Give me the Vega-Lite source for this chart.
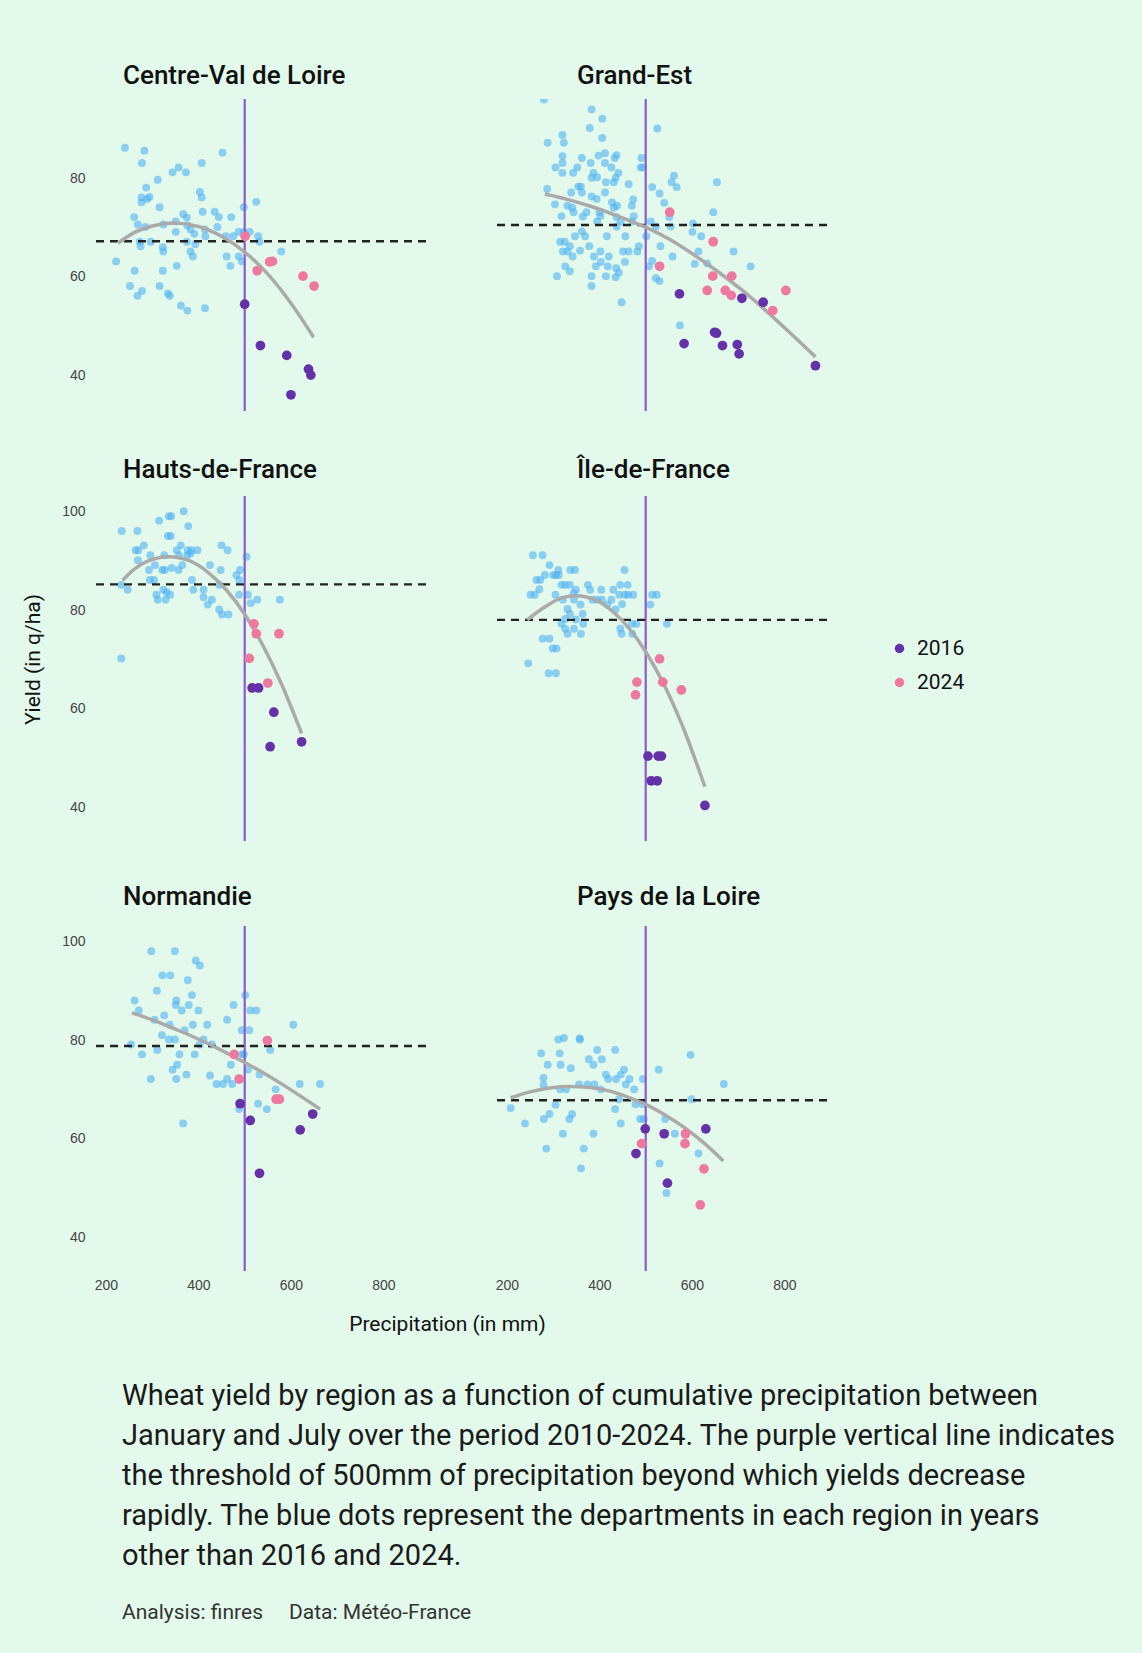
{
"$schema": "https://vega.github.io/schema/vega-lite/v6.json",
"background": "#e3f9eb",
"padding": {"left": 22, "top": 62, "right": 34, "bottom": 32},
"bounds": "flush",
"columns": 2,
"spacing": {"row": 85, "column": 68},
"title": {
  "text": ["Wheat yield by region as a function of cumulative precipitation between", "January and July over the period 2010-2024. The purple vertical line indicates", "the threshold of 500mm of precipitation beyond which yields decrease", "rapidly. The blue dots represent the departments in each region in years", "other than 2016 and 2024."],
  "orient": "bottom", "anchor": "start", "frame": "group", "dx": 29, "offset": 48,
  "font": "Roboto", "fontSize": 29, "fontWeight": "normal", "lineHeight": 40, "color": "#1a1a1a",
  "subtitle": "Analysis: finres\u00a0\u00a0\u00a0\u00a0\u00a0Data: Météo-France", "subtitleFont": "Roboto", "subtitleFontSize": 21, "subtitleColor": "#333333", "subtitlePadding": 31
},
"config": {
  "font": "Roboto",
  "view": {"stroke": null},
  "axis": {"grid": false, "domain": false, "ticks": false, "labelFont": "Liberation Sans", "labelFontSize": 14, "labelColor": "#444444", "labelPadding": 8},
  "title": {"font": "Roboto", "fontSize": 26, "fontWeight": 500, "color": "#111111", "anchor": "start", "frame": "group", "offset": 13}
},
"datasets": {
"ref": [
  {"region": "CVL", "mean_yield": 67.2, "threshold": 500},
  {"region": "GE", "mean_yield": 70.5, "threshold": 500},
  {"region": "HDF", "mean_yield": 85.2, "threshold": 500},
  {"region": "IDF", "mean_yield": 78.0, "threshold": 500},
  {"region": "NOR", "mean_yield": 78.8, "threshold": 500},
  {"region": "PDL", "mean_yield": 67.8, "threshold": 500}
],
"trend": [
  {"region":"CVL","precip":226,"yield":66.8},{"region":"CVL","precip":260,"yield":68.9},{"region":"CVL","precip":300,"yield":70.3},{"region":"CVL","precip":348,"yield":70.9},{"region":"CVL","precip":400,"yield":70.2},{"region":"CVL","precip":450,"yield":68.2},{"region":"CVL","precip":500,"yield":65.0},{"region":"CVL","precip":550,"yield":60.5},{"region":"CVL","precip":600,"yield":54.6},{"region":"CVL","precip":649,"yield":47.7},
  {"region":"GE","precip":282,"yield":76.8},{"region":"GE","precip":330,"yield":75.7},{"region":"GE","precip":381,"yield":74.3},{"region":"GE","precip":440,"yield":72.3},{"region":"GE","precip":501,"yield":70.0},{"region":"GE","precip":555,"yield":67.4},{"region":"GE","precip":605,"yield":64.4},{"region":"GE","precip":655,"yield":61.1},{"region":"GE","precip":705,"yield":57.5},{"region":"GE","precip":755,"yield":53.5},{"region":"GE","precip":805,"yield":49.2},{"region":"GE","precip":867,"yield":43.7},
  {"region":"HDF","precip":236,"yield":86.0},{"region":"HDF","precip":260,"yield":88.2},{"region":"HDF","precip":290,"yield":89.9},{"region":"HDF","precip":336,"yield":90.8},{"region":"HDF","precip":380,"yield":90.0},{"region":"HDF","precip":420,"yield":87.7},{"region":"HDF","precip":460,"yield":84.1},{"region":"HDF","precip":501,"yield":79.0},{"region":"HDF","precip":540,"yield":72.7},{"region":"HDF","precip":580,"yield":64.9},{"region":"HDF","precip":623,"yield":55.0},
  {"region":"IDF","precip":244,"yield":78.0},{"region":"IDF","precip":280,"yield":80.5},{"region":"IDF","precip":320,"yield":82.5},{"region":"IDF","precip":349,"yield":82.9},{"region":"IDF","precip":390,"yield":82.1},{"region":"IDF","precip":430,"yield":79.6},{"region":"IDF","precip":470,"yield":75.6},{"region":"IDF","precip":501,"yield":71.4},{"region":"IDF","precip":540,"yield":64.8},{"region":"IDF","precip":580,"yield":56.4},{"region":"IDF","precip":628,"yield":44.2},
  {"region":"NOR","precip":256,"yield":85.5},{"region":"NOR","precip":300,"yield":84.1},{"region":"NOR","precip":350,"yield":82.2},{"region":"NOR","precip":400,"yield":80.2},{"region":"NOR","precip":450,"yield":77.9},{"region":"NOR","precip":499,"yield":75.5},{"region":"NOR","precip":550,"yield":72.8},{"region":"NOR","precip":600,"yield":69.9},{"region":"NOR","precip":663,"yield":66.0},
  {"region":"PDL","precip":208,"yield":68.3},{"region":"PDL","precip":250,"yield":69.5},{"region":"PDL","precip":300,"yield":70.4},{"region":"PDL","precip":338,"yield":70.6},{"region":"PDL","precip":380,"yield":70.4},{"region":"PDL","precip":420,"yield":69.7},{"region":"PDL","precip":460,"yield":68.5},{"region":"PDL","precip":501,"yield":66.9},{"region":"PDL","precip":540,"yield":64.9},{"region":"PDL","precip":580,"yield":62.5},{"region":"PDL","precip":620,"yield":59.6},{"region":"PDL","precip":668,"yield":55.5}
],
"points": [
{"region":"CVL","year":"other","precip":241,"yield":86.2},{"region":"CVL","year":"other","precip":283,"yield":85.6},{"region":"CVL","year":"other","precip":278,"yield":83.1},{"region":"CVL","year":"other","precip":452,"yield":85.2},{"region":"CVL","year":"other","precip":407,"yield":83.1},{"region":"CVL","year":"other","precip":344,"yield":81.2},{"region":"CVL","year":"other","precip":357,"yield":82.2},{"region":"CVL","year":"other","precip":373,"yield":81.2},{"region":"CVL","year":"other","precip":312,"yield":79.7},{"region":"CVL","year":"other","precip":403,"yield":77.2},{"region":"CVL","year":"other","precip":407,"yield":76.1},{"region":"CVL","year":"other","precip":287,"yield":78.1},{"region":"CVL","year":"other","precip":277,"yield":76.1},{"region":"CVL","year":"other","precip":294,"yield":76.2},{"region":"CVL","year":"other","precip":289,"yield":75.8},{"region":"CVL","year":"other","precip":277,"yield":75.1},{"region":"CVL","year":"other","precip":316,"yield":74.1},{"region":"CVL","year":"other","precip":525,"yield":75.2},{"region":"CVL","year":"other","precip":498,"yield":74.1},{"region":"CVL","year":"other","precip":367,"yield":72.7},{"region":"CVL","year":"other","precip":409,"yield":73.2},{"region":"CVL","year":"other","precip":435,"yield":73.2},{"region":"CVL","year":"other","precip":444,"yield":72.1},{"region":"CVL","year":"other","precip":471,"yield":72.1},{"region":"CVL","year":"other","precip":261,"yield":72.1},{"region":"CVL","year":"other","precip":269,"yield":70.6},{"region":"CVL","year":"other","precip":285,"yield":70.1},{"region":"CVL","year":"other","precip":324,"yield":70.6},{"region":"CVL","year":"other","precip":351,"yield":71.2},{"region":"CVL","year":"other","precip":351,"yield":69.1},{"region":"CVL","year":"other","precip":375,"yield":72.0},{"region":"CVL","year":"other","precip":376,"yield":70.4},{"region":"CVL","year":"other","precip":383,"yield":69.6},{"region":"CVL","year":"other","precip":391,"yield":68.7},{"region":"CVL","year":"other","precip":414,"yield":69.6},{"region":"CVL","year":"other","precip":415,"yield":68.2},{"region":"CVL","year":"other","precip":441,"yield":70.1},{"region":"CVL","year":"other","precip":459,"yield":68.2},{"region":"CVL","year":"other","precip":475,"yield":68.2},{"region":"CVL","year":"other","precip":487,"yield":69.1},{"region":"CVL","year":"other","precip":511,"yield":69.1},{"region":"CVL","year":"other","precip":529,"yield":68.2},{"region":"CVL","year":"other","precip":532,"yield":67.1},{"region":"CVL","year":"other","precip":273,"yield":67.1},{"region":"CVL","year":"other","precip":297,"yield":67.1},{"region":"CVL","year":"other","precip":323,"yield":66.0},{"region":"CVL","year":"other","precip":324,"yield":65.1},{"region":"CVL","year":"other","precip":375,"yield":67.1},{"region":"CVL","year":"other","precip":383,"yield":65.1},{"region":"CVL","year":"other","precip":388,"yield":64.1},{"region":"CVL","year":"other","precip":393,"yield":66.6},{"region":"CVL","year":"other","precip":461,"yield":64.1},{"region":"CVL","year":"other","precip":469,"yield":62.2},{"region":"CVL","year":"other","precip":487,"yield":64.1},{"region":"CVL","year":"other","precip":494,"yield":63.1},{"region":"CVL","year":"other","precip":579,"yield":65.1},{"region":"CVL","year":"other","precip":222,"yield":63.1},{"region":"CVL","year":"other","precip":262,"yield":61.2},{"region":"CVL","year":"other","precip":323,"yield":61.2},{"region":"CVL","year":"other","precip":353,"yield":62.2},{"region":"CVL","year":"other","precip":252,"yield":58.1},{"region":"CVL","year":"other","precip":268,"yield":56.1},{"region":"CVL","year":"other","precip":278,"yield":57.1},{"region":"CVL","year":"other","precip":316,"yield":58.1},{"region":"CVL","year":"other","precip":334,"yield":56.6},{"region":"CVL","year":"other","precip":338,"yield":56.1},{"region":"CVL","year":"other","precip":362,"yield":54.1},{"region":"CVL","year":"other","precip":376,"yield":53.1},{"region":"CVL","year":"other","precip":414,"yield":53.6},{"region":"CVL","year":"other","precip":275,"yield":66.2},{"region":"CVL","year":"other","precip":498,"yield":69.1},
{"region":"CVL","year":"2024","precip":501,"yield":68.2},{"region":"CVL","year":"2024","precip":527,"yield":61.2},{"region":"CVL","year":"2024","precip":554,"yield":63.0},{"region":"CVL","year":"2024","precip":560,"yield":63.1},{"region":"CVL","year":"2024","precip":626,"yield":60.1},{"region":"CVL","year":"2024","precip":650,"yield":58.1},
{"region":"CVL","year":"2016","precip":500,"yield":54.4},{"region":"CVL","year":"2016","precip":534,"yield":46.0},{"region":"CVL","year":"2016","precip":591,"yield":44.0},{"region":"CVL","year":"2016","precip":638,"yield":41.2},{"region":"CVL","year":"2016","precip":643,"yield":40.0},{"region":"CVL","year":"2016","precip":600,"yield":36.0},
{"region":"GE","year":"other","precip":280,"yield":96.0},{"region":"GE","year":"other","precip":383,"yield":94.0},{"region":"GE","year":"other","precip":406,"yield":92.1},{"region":"GE","year":"other","precip":379,"yield":90.2},{"region":"GE","year":"other","precip":525,"yield":90.1},{"region":"GE","year":"other","precip":320,"yield":88.8},{"region":"GE","year":"other","precip":406,"yield":88.2},{"region":"GE","year":"other","precip":288,"yield":87.2},{"region":"GE","year":"other","precip":323,"yield":87.2},{"region":"GE","year":"other","precip":320,"yield":84.5},{"region":"GE","year":"other","precip":362,"yield":84.1},{"region":"GE","year":"other","precip":398,"yield":84.6},{"region":"GE","year":"other","precip":412,"yield":85.1},{"region":"GE","year":"other","precip":433,"yield":84.1},{"region":"GE","year":"other","precip":437,"yield":84.7},{"region":"GE","year":"other","precip":491,"yield":84.1},{"region":"GE","year":"other","precip":305,"yield":82.2},{"region":"GE","year":"other","precip":320,"yield":83.1},{"region":"GE","year":"other","precip":320,"yield":81.1},{"region":"GE","year":"other","precip":343,"yield":81.1},{"region":"GE","year":"other","precip":352,"yield":82.2},{"region":"GE","year":"other","precip":381,"yield":83.1},{"region":"GE","year":"other","precip":412,"yield":83.1},{"region":"GE","year":"other","precip":426,"yield":82.2},{"region":"GE","year":"other","precip":489,"yield":82.2},{"region":"GE","year":"other","precip":494,"yield":82.2},{"region":"GE","year":"other","precip":387,"yield":81.1},{"region":"GE","year":"other","precip":395,"yield":80.2},{"region":"GE","year":"other","precip":441,"yield":81.1},{"region":"GE","year":"other","precip":383,"yield":80.1},{"region":"GE","year":"other","precip":414,"yield":79.2},{"region":"GE","year":"other","precip":431,"yield":79.2},{"region":"GE","year":"other","precip":435,"yield":80.1},{"region":"GE","year":"other","precip":561,"yield":80.5},{"region":"GE","year":"other","precip":556,"yield":79.2},{"region":"GE","year":"other","precip":567,"yield":78.2},{"region":"GE","year":"other","precip":654,"yield":79.2},{"region":"GE","year":"other","precip":463,"yield":78.8},{"region":"GE","year":"other","precip":354,"yield":78.3},{"region":"GE","year":"other","precip":360,"yield":78.3},{"region":"GE","year":"other","precip":514,"yield":78.2},{"region":"GE","year":"other","precip":287,"yield":77.8},{"region":"GE","year":"other","precip":339,"yield":77.1},{"region":"GE","year":"other","precip":362,"yield":77.1},{"region":"GE","year":"other","precip":412,"yield":77.1},{"region":"GE","year":"other","precip":530,"yield":76.9},{"region":"GE","year":"other","precip":383,"yield":76.3},{"region":"GE","year":"other","precip":394,"yield":75.8},{"region":"GE","year":"other","precip":473,"yield":75.7},{"region":"GE","year":"other","precip":304,"yield":74.7},{"region":"GE","year":"other","precip":331,"yield":74.4},{"region":"GE","year":"other","precip":427,"yield":75.1},{"region":"GE","year":"other","precip":438,"yield":74.4},{"region":"GE","year":"other","precip":470,"yield":74.4},{"region":"GE","year":"other","precip":540,"yield":75.0},{"region":"GE","year":"other","precip":341,"yield":74.0},{"region":"GE","year":"other","precip":344,"yield":73.1},{"region":"GE","year":"other","precip":372,"yield":73.1},{"region":"GE","year":"other","precip":400,"yield":73.1},{"region":"GE","year":"other","precip":431,"yield":74.0},{"region":"GE","year":"other","precip":318,"yield":72.3},{"region":"GE","year":"other","precip":364,"yield":72.2},{"region":"GE","year":"other","precip":402,"yield":72.3},{"region":"GE","year":"other","precip":437,"yield":72.1},{"region":"GE","year":"other","precip":474,"yield":72.3},{"region":"GE","year":"other","precip":646,"yield":73.1},{"region":"GE","year":"other","precip":395,"yield":71.2},{"region":"GE","year":"other","precip":446,"yield":71.2},{"region":"GE","year":"other","precip":471,"yield":71.2},{"region":"GE","year":"other","precip":511,"yield":71.2},{"region":"GE","year":"other","precip":551,"yield":72.1},{"region":"GE","year":"other","precip":554,"yield":70.2},{"region":"GE","year":"other","precip":522,"yield":70.2},{"region":"GE","year":"other","precip":602,"yield":70.8},{"region":"GE","year":"other","precip":437,"yield":70.2},{"region":"GE","year":"other","precip":362,"yield":69.2},{"region":"GE","year":"other","precip":347,"yield":68.2},{"region":"GE","year":"other","precip":369,"yield":68.2},{"region":"GE","year":"other","precip":416,"yield":68.2},{"region":"GE","year":"other","precip":456,"yield":68.2},{"region":"GE","year":"other","precip":501,"yield":68.2},{"region":"GE","year":"other","precip":601,"yield":69.1},{"region":"GE","year":"other","precip":620,"yield":68.2},{"region":"GE","year":"other","precip":315,"yield":67.1},{"region":"GE","year":"other","precip":325,"yield":67.1},{"region":"GE","year":"other","precip":378,"yield":66.2},{"region":"GE","year":"other","precip":485,"yield":66.2},{"region":"GE","year":"other","precip":532,"yield":66.2},{"region":"GE","year":"other","precip":336,"yield":66.2},{"region":"GE","year":"other","precip":321,"yield":65.1},{"region":"GE","year":"other","precip":331,"yield":65.1},{"region":"GE","year":"other","precip":358,"yield":65.3},{"region":"GE","year":"other","precip":402,"yield":65.1},{"region":"GE","year":"other","precip":451,"yield":65.1},{"region":"GE","year":"other","precip":463,"yield":65.1},{"region":"GE","year":"other","precip":482,"yield":65.1},{"region":"GE","year":"other","precip":614,"yield":65.1},{"region":"GE","year":"other","precip":690,"yield":65.1},{"region":"GE","year":"other","precip":342,"yield":64.1},{"region":"GE","year":"other","precip":388,"yield":64.1},{"region":"GE","year":"other","precip":420,"yield":64.1},{"region":"GE","year":"other","precip":455,"yield":63.0},{"region":"GE","year":"other","precip":514,"yield":63.2},{"region":"GE","year":"other","precip":558,"yield":64.1},{"region":"GE","year":"other","precip":403,"yield":63.0},{"region":"GE","year":"other","precip":326,"yield":62.1},{"region":"GE","year":"other","precip":336,"yield":61.1},{"region":"GE","year":"other","precip":392,"yield":62.1},{"region":"GE","year":"other","precip":418,"yield":62.1},{"region":"GE","year":"other","precip":436,"yield":61.7},{"region":"GE","year":"other","precip":507,"yield":62.1},{"region":"GE","year":"other","precip":606,"yield":62.6},{"region":"GE","year":"other","precip":633,"yield":62.7},{"region":"GE","year":"other","precip":727,"yield":62.1},{"region":"GE","year":"other","precip":308,"yield":60.1},{"region":"GE","year":"other","precip":383,"yield":60.1},{"region":"GE","year":"other","precip":414,"yield":60.1},{"region":"GE","year":"other","precip":435,"yield":59.9},{"region":"GE","year":"other","precip":442,"yield":60.8},{"region":"GE","year":"other","precip":522,"yield":59.7},{"region":"GE","year":"other","precip":530,"yield":59.1},{"region":"GE","year":"other","precip":383,"yield":58.1},{"region":"GE","year":"other","precip":448,"yield":54.8},{"region":"GE","year":"other","precip":574,"yield":50.1},
{"region":"GE","year":"2024","precip":552,"yield":73.1},{"region":"GE","year":"2024","precip":646,"yield":67.1},{"region":"GE","year":"2024","precip":530,"yield":62.1},{"region":"GE","year":"2024","precip":645,"yield":60.1},{"region":"GE","year":"2024","precip":686,"yield":60.1},{"region":"GE","year":"2024","precip":633,"yield":57.2},{"region":"GE","year":"2024","precip":672,"yield":57.2},{"region":"GE","year":"2024","precip":685,"yield":56.2},{"region":"GE","year":"2024","precip":775,"yield":53.1},{"region":"GE","year":"2024","precip":803,"yield":57.2},
{"region":"GE","year":"2016","precip":573,"yield":56.5},{"region":"GE","year":"2016","precip":583,"yield":46.4},{"region":"GE","year":"2016","precip":649,"yield":48.7},{"region":"GE","year":"2016","precip":653,"yield":48.5},{"region":"GE","year":"2016","precip":666,"yield":46.0},{"region":"GE","year":"2016","precip":698,"yield":46.2},{"region":"GE","year":"2016","precip":702,"yield":44.3},{"region":"GE","year":"2016","precip":708,"yield":55.6},{"region":"GE","year":"2016","precip":754,"yield":54.8},{"region":"GE","year":"2016","precip":867,"yield":41.9},
{"region":"HDF","year":"other","precip":234,"yield":96.0},{"region":"HDF","year":"other","precip":268,"yield":96.0},{"region":"HDF","year":"other","precip":315,"yield":98.1},{"region":"HDF","year":"other","precip":336,"yield":99.0},{"region":"HDF","year":"other","precip":341,"yield":99.0},{"region":"HDF","year":"other","precip":368,"yield":100.0},{"region":"HDF","year":"other","precip":378,"yield":97.0},{"region":"HDF","year":"other","precip":334,"yield":95.0},{"region":"HDF","year":"other","precip":340,"yield":95.0},{"region":"HDF","year":"other","precip":282,"yield":93.1},{"region":"HDF","year":"other","precip":264,"yield":92.1},{"region":"HDF","year":"other","precip":270,"yield":92.1},{"region":"HDF","year":"other","precip":362,"yield":93.1},{"region":"HDF","year":"other","precip":353,"yield":92.1},{"region":"HDF","year":"other","precip":377,"yield":92.1},{"region":"HDF","year":"other","precip":385,"yield":92.1},{"region":"HDF","year":"other","precip":398,"yield":92.1},{"region":"HDF","year":"other","precip":376,"yield":91.1},{"region":"HDF","year":"other","precip":383,"yield":91.5},{"region":"HDF","year":"other","precip":450,"yield":93.1},{"region":"HDF","year":"other","precip":463,"yield":92.1},{"region":"HDF","year":"other","precip":504,"yield":90.8},{"region":"HDF","year":"other","precip":296,"yield":91.1},{"region":"HDF","year":"other","precip":326,"yield":91.1},{"region":"HDF","year":"other","precip":358,"yield":91.1},{"region":"HDF","year":"other","precip":269,"yield":90.1},{"region":"HDF","year":"other","precip":306,"yield":89.1},{"region":"HDF","year":"other","precip":365,"yield":89.1},{"region":"HDF","year":"other","precip":425,"yield":89.1},{"region":"HDF","year":"other","precip":293,"yield":88.1},{"region":"HDF","year":"other","precip":322,"yield":88.1},{"region":"HDF","year":"other","precip":327,"yield":88.1},{"region":"HDF","year":"other","precip":342,"yield":88.5},{"region":"HDF","year":"other","precip":357,"yield":88.1},{"region":"HDF","year":"other","precip":448,"yield":88.1},{"region":"HDF","year":"other","precip":490,"yield":88.1},{"region":"HDF","year":"other","precip":482,"yield":87.1},{"region":"HDF","year":"other","precip":488,"yield":86.1},{"region":"HDF","year":"other","precip":295,"yield":86.1},{"region":"HDF","year":"other","precip":304,"yield":86.1},{"region":"HDF","year":"other","precip":386,"yield":86.1},{"region":"HDF","year":"other","precip":233,"yield":85.1},{"region":"HDF","year":"other","precip":247,"yield":84.1},{"region":"HDF","year":"other","precip":309,"yield":83.1},{"region":"HDF","year":"other","precip":324,"yield":84.1},{"region":"HDF","year":"other","precip":331,"yield":83.6},{"region":"HDF","year":"other","precip":339,"yield":83.1},{"region":"HDF","year":"other","precip":312,"yield":82.1},{"region":"HDF","year":"other","precip":329,"yield":82.1},{"region":"HDF","year":"other","precip":389,"yield":84.1},{"region":"HDF","year":"other","precip":445,"yield":85.1},{"region":"HDF","year":"other","precip":411,"yield":84.1},{"region":"HDF","year":"other","precip":411,"yield":82.6},{"region":"HDF","year":"other","precip":429,"yield":82.1},{"region":"HDF","year":"other","precip":420,"yield":81.1},{"region":"HDF","year":"other","precip":445,"yield":80.1},{"region":"HDF","year":"other","precip":451,"yield":79.1},{"region":"HDF","year":"other","precip":465,"yield":79.1},{"region":"HDF","year":"other","precip":488,"yield":83.1},{"region":"HDF","year":"other","precip":507,"yield":83.1},{"region":"HDF","year":"other","precip":513,"yield":81.4},{"region":"HDF","year":"other","precip":527,"yield":82.1},{"region":"HDF","year":"other","precip":576,"yield":82.1},{"region":"HDF","year":"other","precip":233,"yield":70.2},
{"region":"HDF","year":"2024","precip":520,"yield":77.2},{"region":"HDF","year":"2024","precip":525,"yield":75.2},{"region":"HDF","year":"2024","precip":574,"yield":75.2},{"region":"HDF","year":"2024","precip":510,"yield":70.2},{"region":"HDF","year":"2024","precip":550,"yield":65.2},
{"region":"HDF","year":"2016","precip":516,"yield":64.2},{"region":"HDF","year":"2016","precip":530,"yield":64.2},{"region":"HDF","year":"2016","precip":563,"yield":59.3},{"region":"HDF","year":"2016","precip":555,"yield":52.3},{"region":"HDF","year":"2016","precip":623,"yield":53.3},
{"region":"IDF","year":"other","precip":256,"yield":91.1},{"region":"IDF","year":"other","precip":277,"yield":91.1},{"region":"IDF","year":"other","precip":292,"yield":89.1},{"region":"IDF","year":"other","precip":311,"yield":88.1},{"region":"IDF","year":"other","precip":337,"yield":88.1},{"region":"IDF","year":"other","precip":347,"yield":88.1},{"region":"IDF","year":"other","precip":454,"yield":88.1},{"region":"IDF","year":"other","precip":282,"yield":87.1},{"region":"IDF","year":"other","precip":300,"yield":87.1},{"region":"IDF","year":"other","precip":306,"yield":87.1},{"region":"IDF","year":"other","precip":312,"yield":87.1},{"region":"IDF","year":"other","precip":264,"yield":86.1},{"region":"IDF","year":"other","precip":272,"yield":86.1},{"region":"IDF","year":"other","precip":318,"yield":85.1},{"region":"IDF","year":"other","precip":326,"yield":85.1},{"region":"IDF","year":"other","precip":336,"yield":85.1},{"region":"IDF","year":"other","precip":375,"yield":85.1},{"region":"IDF","year":"other","precip":445,"yield":85.1},{"region":"IDF","year":"other","precip":461,"yield":85.1},{"region":"IDF","year":"other","precip":251,"yield":83.1},{"region":"IDF","year":"other","precip":260,"yield":83.1},{"region":"IDF","year":"other","precip":270,"yield":84.2},{"region":"IDF","year":"other","precip":305,"yield":83.1},{"region":"IDF","year":"other","precip":344,"yield":83.4},{"region":"IDF","year":"other","precip":349,"yield":84.1},{"region":"IDF","year":"other","precip":380,"yield":84.1},{"region":"IDF","year":"other","precip":404,"yield":84.1},{"region":"IDF","year":"other","precip":430,"yield":84.1},{"region":"IDF","year":"other","precip":443,"yield":83.1},{"region":"IDF","year":"other","precip":455,"yield":83.1},{"region":"IDF","year":"other","precip":462,"yield":83.1},{"region":"IDF","year":"other","precip":473,"yield":83.1},{"region":"IDF","year":"other","precip":514,"yield":83.1},{"region":"IDF","year":"other","precip":524,"yield":83.1},{"region":"IDF","year":"other","precip":321,"yield":82.1},{"region":"IDF","year":"other","precip":345,"yield":82.1},{"region":"IDF","year":"other","precip":359,"yield":81.1},{"region":"IDF","year":"other","precip":385,"yield":82.1},{"region":"IDF","year":"other","precip":395,"yield":82.1},{"region":"IDF","year":"other","precip":405,"yield":82.1},{"region":"IDF","year":"other","precip":426,"yield":82.1},{"region":"IDF","year":"other","precip":449,"yield":81.2},{"region":"IDF","year":"other","precip":510,"yield":81.1},{"region":"IDF","year":"other","precip":331,"yield":80.2},{"region":"IDF","year":"other","precip":364,"yield":79.2},{"region":"IDF","year":"other","precip":417,"yield":81.1},{"region":"IDF","year":"other","precip":435,"yield":80.1},{"region":"IDF","year":"other","precip":336,"yield":79.2},{"region":"IDF","year":"other","precip":326,"yield":78.2},{"region":"IDF","year":"other","precip":349,"yield":78.1},{"region":"IDF","year":"other","precip":318,"yield":77.2},{"region":"IDF","year":"other","precip":365,"yield":77.2},{"region":"IDF","year":"other","precip":345,"yield":76.2},{"region":"IDF","year":"other","precip":326,"yield":76.2},{"region":"IDF","year":"other","precip":331,"yield":75.2},{"region":"IDF","year":"other","precip":360,"yield":75.2},{"region":"IDF","year":"other","precip":445,"yield":76.2},{"region":"IDF","year":"other","precip":470,"yield":77.2},{"region":"IDF","year":"other","precip":480,"yield":77.2},{"region":"IDF","year":"other","precip":471,"yield":75.2},{"region":"IDF","year":"other","precip":448,"yield":75.2},{"region":"IDF","year":"other","precip":546,"yield":77.2},{"region":"IDF","year":"other","precip":277,"yield":74.2},{"region":"IDF","year":"other","precip":292,"yield":74.2},{"region":"IDF","year":"other","precip":299,"yield":72.2},{"region":"IDF","year":"other","precip":307,"yield":72.2},{"region":"IDF","year":"other","precip":246,"yield":69.2},{"region":"IDF","year":"other","precip":290,"yield":67.2},{"region":"IDF","year":"other","precip":306,"yield":67.2},
{"region":"IDF","year":"2024","precip":530,"yield":70.1},{"region":"IDF","year":"2024","precip":481,"yield":65.4},{"region":"IDF","year":"2024","precip":537,"yield":65.4},{"region":"IDF","year":"2024","precip":478,"yield":62.8},{"region":"IDF","year":"2024","precip":577,"yield":63.8},
{"region":"IDF","year":"2016","precip":505,"yield":50.4},{"region":"IDF","year":"2016","precip":527,"yield":50.4},{"region":"IDF","year":"2016","precip":534,"yield":50.4},{"region":"IDF","year":"2016","precip":512,"yield":45.4},{"region":"IDF","year":"2016","precip":525,"yield":45.4},{"region":"IDF","year":"2016","precip":628,"yield":40.4},
{"region":"NOR","year":"other","precip":298,"yield":98.0},{"region":"NOR","year":"other","precip":349,"yield":98.0},{"region":"NOR","year":"other","precip":394,"yield":96.1},{"region":"NOR","year":"other","precip":403,"yield":95.1},{"region":"NOR","year":"other","precip":322,"yield":93.1},{"region":"NOR","year":"other","precip":339,"yield":93.1},{"region":"NOR","year":"other","precip":377,"yield":92.1},{"region":"NOR","year":"other","precip":310,"yield":90.0},{"region":"NOR","year":"other","precip":386,"yield":89.1},{"region":"NOR","year":"other","precip":501,"yield":89.1},{"region":"NOR","year":"other","precip":262,"yield":88.0},{"region":"NOR","year":"other","precip":352,"yield":88.0},{"region":"NOR","year":"other","precip":379,"yield":87.1},{"region":"NOR","year":"other","precip":351,"yield":87.1},{"region":"NOR","year":"other","precip":476,"yield":87.1},{"region":"NOR","year":"other","precip":271,"yield":86.0},{"region":"NOR","year":"other","precip":364,"yield":86.0},{"region":"NOR","year":"other","precip":400,"yield":86.0},{"region":"NOR","year":"other","precip":512,"yield":86.0},{"region":"NOR","year":"other","precip":525,"yield":86.0},{"region":"NOR","year":"other","precip":305,"yield":84.1},{"region":"NOR","year":"other","precip":326,"yield":85.0},{"region":"NOR","year":"other","precip":462,"yield":84.1},{"region":"NOR","year":"other","precip":338,"yield":83.1},{"region":"NOR","year":"other","precip":388,"yield":83.1},{"region":"NOR","year":"other","precip":419,"yield":83.1},{"region":"NOR","year":"other","precip":605,"yield":83.1},{"region":"NOR","year":"other","precip":321,"yield":81.0},{"region":"NOR","year":"other","precip":370,"yield":82.0},{"region":"NOR","year":"other","precip":494,"yield":82.0},{"region":"NOR","year":"other","precip":510,"yield":82.0},{"region":"NOR","year":"other","precip":336,"yield":80.1},{"region":"NOR","year":"other","precip":349,"yield":80.1},{"region":"NOR","year":"other","precip":403,"yield":79.1},{"region":"NOR","year":"other","precip":411,"yield":80.1},{"region":"NOR","year":"other","precip":429,"yield":79.1},{"region":"NOR","year":"other","precip":254,"yield":79.1},{"region":"NOR","year":"other","precip":311,"yield":78.0},{"region":"NOR","year":"other","precip":555,"yield":78.0},{"region":"NOR","year":"other","precip":278,"yield":77.1},{"region":"NOR","year":"other","precip":359,"yield":77.1},{"region":"NOR","year":"other","precip":392,"yield":77.1},{"region":"NOR","year":"other","precip":494,"yield":77.1},{"region":"NOR","year":"other","precip":498,"yield":77.1},{"region":"NOR","year":"other","precip":470,"yield":75.0},{"region":"NOR","year":"other","precip":344,"yield":74.0},{"region":"NOR","year":"other","precip":354,"yield":75.0},{"region":"NOR","year":"other","precip":507,"yield":74.0},{"region":"NOR","year":"other","precip":374,"yield":73.0},{"region":"NOR","year":"other","precip":425,"yield":72.8},{"region":"NOR","year":"other","precip":297,"yield":72.1},{"region":"NOR","year":"other","precip":352,"yield":72.1},{"region":"NOR","year":"other","precip":439,"yield":71.1},{"region":"NOR","year":"other","precip":453,"yield":71.1},{"region":"NOR","year":"other","precip":462,"yield":72.1},{"region":"NOR","year":"other","precip":473,"yield":71.1},{"region":"NOR","year":"other","precip":532,"yield":73.0},{"region":"NOR","year":"other","precip":619,"yield":71.1},{"region":"NOR","year":"other","precip":663,"yield":71.1},{"region":"NOR","year":"other","precip":567,"yield":70.0},{"region":"NOR","year":"other","precip":529,"yield":67.1},{"region":"NOR","year":"other","precip":548,"yield":66.0},{"region":"NOR","year":"other","precip":488,"yield":66.0},{"region":"NOR","year":"other","precip":367,"yield":63.1},
{"region":"NOR","year":"2024","precip":477,"yield":77.1},{"region":"NOR","year":"2024","precip":549,"yield":79.9},{"region":"NOR","year":"2024","precip":488,"yield":72.1},{"region":"NOR","year":"2024","precip":568,"yield":68.0},{"region":"NOR","year":"2024","precip":575,"yield":68.0},
{"region":"NOR","year":"2016","precip":490,"yield":67.1},{"region":"NOR","year":"2016","precip":512,"yield":63.7},{"region":"NOR","year":"2016","precip":532,"yield":53.0},{"region":"NOR","year":"2016","precip":620,"yield":61.8},{"region":"NOR","year":"2016","precip":647,"yield":65.0},
{"region":"PDL","year":"other","precip":311,"yield":80.1},{"region":"PDL","year":"other","precip":323,"yield":80.4},{"region":"PDL","year":"other","precip":357,"yield":80.3},{"region":"PDL","year":"other","precip":358,"yield":80.1},{"region":"PDL","year":"other","precip":274,"yield":77.3},{"region":"PDL","year":"other","precip":314,"yield":77.3},{"region":"PDL","year":"other","precip":395,"yield":78.0},{"region":"PDL","year":"other","precip":434,"yield":78.0},{"region":"PDL","year":"other","precip":597,"yield":77.0},{"region":"PDL","year":"other","precip":288,"yield":75.0},{"region":"PDL","year":"other","precip":316,"yield":75.0},{"region":"PDL","year":"other","precip":338,"yield":74.3},{"region":"PDL","year":"other","precip":377,"yield":76.1},{"region":"PDL","year":"other","precip":387,"yield":75.0},{"region":"PDL","year":"other","precip":405,"yield":76.1},{"region":"PDL","year":"other","precip":453,"yield":74.0},{"region":"PDL","year":"other","precip":528,"yield":74.0},{"region":"PDL","year":"other","precip":279,"yield":72.3},{"region":"PDL","year":"other","precip":414,"yield":73.0},{"region":"PDL","year":"other","precip":446,"yield":73.0},{"region":"PDL","year":"other","precip":465,"yield":72.1},{"region":"PDL","year":"other","precip":494,"yield":72.1},{"region":"PDL","year":"other","precip":419,"yield":72.1},{"region":"PDL","year":"other","precip":436,"yield":72.1},{"region":"PDL","year":"other","precip":279,"yield":70.9},{"region":"PDL","year":"other","precip":356,"yield":71.0},{"region":"PDL","year":"other","precip":374,"yield":71.0},{"region":"PDL","year":"other","precip":389,"yield":71.0},{"region":"PDL","year":"other","precip":457,"yield":71.0},{"region":"PDL","year":"other","precip":475,"yield":70.0},{"region":"PDL","year":"other","precip":315,"yield":70.0},{"region":"PDL","year":"other","precip":328,"yield":70.0},{"region":"PDL","year":"other","precip":403,"yield":70.0},{"region":"PDL","year":"other","precip":669,"yield":71.1},{"region":"PDL","year":"other","precip":442,"yield":68.0},{"region":"PDL","year":"other","precip":478,"yield":67.0},{"region":"PDL","year":"other","precip":493,"yield":67.0},{"region":"PDL","year":"other","precip":599,"yield":68.0},{"region":"PDL","year":"other","precip":208,"yield":66.2},{"region":"PDL","year":"other","precip":305,"yield":66.9},{"region":"PDL","year":"other","precip":292,"yield":65.0},{"region":"PDL","year":"other","precip":341,"yield":65.0},{"region":"PDL","year":"other","precip":434,"yield":66.0},{"region":"PDL","year":"other","precip":280,"yield":64.0},{"region":"PDL","year":"other","precip":335,"yield":64.0},{"region":"PDL","year":"other","precip":488,"yield":64.0},{"region":"PDL","year":"other","precip":496,"yield":64.0},{"region":"PDL","year":"other","precip":542,"yield":64.0},{"region":"PDL","year":"other","precip":239,"yield":63.1},{"region":"PDL","year":"other","precip":446,"yield":63.1},{"region":"PDL","year":"other","precip":321,"yield":61.0},{"region":"PDL","year":"other","precip":387,"yield":61.0},{"region":"PDL","year":"other","precip":563,"yield":61.0},{"region":"PDL","year":"other","precip":285,"yield":58.0},{"region":"PDL","year":"other","precip":366,"yield":58.0},{"region":"PDL","year":"other","precip":614,"yield":57.0},{"region":"PDL","year":"other","precip":360,"yield":54.0},{"region":"PDL","year":"other","precip":530,"yield":55.0},{"region":"PDL","year":"other","precip":545,"yield":49.0},
{"region":"PDL","year":"2024","precip":586,"yield":61.0},{"region":"PDL","year":"2024","precip":585,"yield":59.0},{"region":"PDL","year":"2024","precip":491,"yield":59.0},{"region":"PDL","year":"2024","precip":626,"yield":53.9},{"region":"PDL","year":"2024","precip":618,"yield":46.6},
{"region":"PDL","year":"2016","precip":499,"yield":62.0},{"region":"PDL","year":"2016","precip":540,"yield":61.0},{"region":"PDL","year":"2016","precip":630,"yield":62.0},{"region":"PDL","year":"2016","precip":479,"yield":57.0},{"region":"PDL","year":"2016","precip":547,"yield":51.0}
]
},
"concat": [
{
 "width": 333, "height": 312,
 "title": {"text": "Centre-Val de Loire", "dx": 30, "offset": 9},
 "layer": [
  {"data": {"name": "points"}, "transform": [{"filter": "datum.region === 'CVL' && datum.year === 'other'"}],
   "mark": {"type": "circle", "size": 62, "opacity": 0.6, "clip": true},
   "encoding": {
    "x": {"field": "precip", "type": "quantitative", "scale": {"domain": [172, 892], "nice": false, "zero": false}, "axis": null},
    "y": {"field": "yield", "type": "quantitative", "scale": {"domain": [32.7, 96.1], "nice": false, "zero": false}, "axis": {"values": [40, 60, 80], "title": null}},
    "color": {"field": "year", "type": "nominal", "scale": {"domain": ["2016", "2024", "other"], "range": ["#6431a9", "#ef78a0", "#4fb3f3"]}, "legend": {"values": ["2016", "2024"], "orient": "none", "legendX": 796, "legendY": 539, "title": null, "labelFont": "Roboto", "labelFontSize": 21, "labelColor": "#111111", "symbolSize": 90, "symbolType": "circle", "symbolOpacity": 1, "rowPadding": 12, "labelOffset": 7}}
   }},
  {"data": {"name": "ref"}, "transform": [{"filter": "datum.region === 'CVL'"}], "mark": {"type": "rule", "color": "#8a5cd0", "strokeWidth": 2.2},
   "encoding": {"x": {"field": "threshold", "type": "quantitative"}}},
  {"data": {"name": "ref"}, "transform": [{"filter": "datum.region === 'CVL'"}], "mark": {"type": "rule", "color": "#222222", "strokeDash": [8, 6], "strokeWidth": 2.4},
   "encoding": {"y": {"field": "mean_yield", "type": "quantitative"}}},
  {"data": {"name": "trend"}, "transform": [{"filter": "datum.region === 'CVL'"}], "mark": {"type": "line", "color": "#aaaaaa", "strokeWidth": 3.5, "interpolate": "monotone"},
   "encoding": {"x": {"field": "precip", "type": "quantitative"}, "y": {"field": "yield", "type": "quantitative"}}},
  {"data": {"name": "points"}, "transform": [{"filter": "datum.region === 'CVL' && datum.year !== 'other'"}],
   "mark": {"type": "circle", "size": 95, "opacity": 1, "clip": true},
   "encoding": {"x": {"field": "precip", "type": "quantitative"}, "y": {"field": "yield", "type": "quantitative"}, "color": {"field": "year", "type": "nominal"}}}
 ]
},
{
 "width": 333, "height": 312,
 "title": {"text": "Grand-Est", "dx": 83, "offset": 9},
 "layer": [
  {"data": {"name": "points"}, "transform": [{"filter": "datum.region === 'GE' && datum.year === 'other'"}],
   "mark": {"type": "circle", "size": 62, "opacity": 0.6, "clip": true},
   "encoding": {
    "x": {"field": "precip", "type": "quantitative", "scale": {"domain": [172, 892], "nice": false, "zero": false}, "axis": null},
    "y": {"field": "yield", "type": "quantitative", "scale": {"domain": [32.7, 96.1], "nice": false, "zero": false}, "axis": null},
    "color": {"field": "year", "type": "nominal", "scale": {"domain": ["2016", "2024", "other"], "range": ["#6431a9", "#ef78a0", "#4fb3f3"]}}
   }},
  {"data": {"name": "ref"}, "transform": [{"filter": "datum.region === 'GE'"}], "mark": {"type": "rule", "color": "#8a5cd0", "strokeWidth": 2.2},
   "encoding": {"x": {"field": "threshold", "type": "quantitative"}}},
  {"data": {"name": "ref"}, "transform": [{"filter": "datum.region === 'GE'"}], "mark": {"type": "rule", "color": "#222222", "strokeDash": [8, 6], "strokeWidth": 2.4},
   "encoding": {"y": {"field": "mean_yield", "type": "quantitative"}}},
  {"data": {"name": "trend"}, "transform": [{"filter": "datum.region === 'GE'"}], "mark": {"type": "line", "color": "#aaaaaa", "strokeWidth": 3.5, "interpolate": "monotone"},
   "encoding": {"x": {"field": "precip", "type": "quantitative"}, "y": {"field": "yield", "type": "quantitative"}}},
  {"data": {"name": "points"}, "transform": [{"filter": "datum.region === 'GE' && datum.year !== 'other'"}],
   "mark": {"type": "circle", "size": 95, "opacity": 1, "clip": true},
   "encoding": {"x": {"field": "precip", "type": "quantitative"}, "y": {"field": "yield", "type": "quantitative"}, "color": {"field": "year", "type": "nominal"}}}
 ]
},
{
 "width": 333, "height": 345,
 "title": {"text": "Hauts-de-France", "dx": 30, "offset": 12},
 "layer": [
  {"data": {"name": "points"}, "transform": [{"filter": "datum.region === 'HDF' && datum.year === 'other'"}],
   "mark": {"type": "circle", "size": 62, "opacity": 0.6, "clip": true},
   "encoding": {
    "x": {"field": "precip", "type": "quantitative", "scale": {"domain": [172, 892], "nice": false, "zero": false}, "axis": null},
    "y": {"field": "yield", "type": "quantitative", "scale": {"domain": [33.2, 103.1], "nice": false, "zero": false}, "axis": {"values": [40, 60, 80, 100], "title": "Yield (in q/ha)", "titleFont": "Roboto", "titleFontSize": 21, "titleFontWeight": "normal", "titleColor": "#111111", "titlePadding": 18, "titleY": 163}},
    "color": {"field": "year", "type": "nominal", "scale": {"domain": ["2016", "2024", "other"], "range": ["#6431a9", "#ef78a0", "#4fb3f3"]}}
   }},
  {"data": {"name": "ref"}, "transform": [{"filter": "datum.region === 'HDF'"}], "mark": {"type": "rule", "color": "#8a5cd0", "strokeWidth": 2.2},
   "encoding": {"x": {"field": "threshold", "type": "quantitative"}}},
  {"data": {"name": "ref"}, "transform": [{"filter": "datum.region === 'HDF'"}], "mark": {"type": "rule", "color": "#222222", "strokeDash": [8, 6], "strokeWidth": 2.4},
   "encoding": {"y": {"field": "mean_yield", "type": "quantitative"}}},
  {"data": {"name": "trend"}, "transform": [{"filter": "datum.region === 'HDF'"}], "mark": {"type": "line", "color": "#aaaaaa", "strokeWidth": 3.5, "interpolate": "monotone"},
   "encoding": {"x": {"field": "precip", "type": "quantitative"}, "y": {"field": "yield", "type": "quantitative"}}},
  {"data": {"name": "points"}, "transform": [{"filter": "datum.region === 'HDF' && datum.year !== 'other'"}],
   "mark": {"type": "circle", "size": 95, "opacity": 1, "clip": true},
   "encoding": {"x": {"field": "precip", "type": "quantitative"}, "y": {"field": "yield", "type": "quantitative"}, "color": {"field": "year", "type": "nominal"}}}
 ]
},
{
 "width": 333, "height": 345,
 "title": {"text": "Île-de-France", "dx": 83, "offset": 12},
 "layer": [
  {"data": {"name": "points"}, "transform": [{"filter": "datum.region === 'IDF' && datum.year === 'other'"}],
   "mark": {"type": "circle", "size": 62, "opacity": 0.6, "clip": true},
   "encoding": {
    "x": {"field": "precip", "type": "quantitative", "scale": {"domain": [172, 892], "nice": false, "zero": false}, "axis": null},
    "y": {"field": "yield", "type": "quantitative", "scale": {"domain": [33.2, 103.1], "nice": false, "zero": false}, "axis": null},
    "color": {"field": "year", "type": "nominal", "scale": {"domain": ["2016", "2024", "other"], "range": ["#6431a9", "#ef78a0", "#4fb3f3"]}}
   }},
  {"data": {"name": "ref"}, "transform": [{"filter": "datum.region === 'IDF'"}], "mark": {"type": "rule", "color": "#8a5cd0", "strokeWidth": 2.2},
   "encoding": {"x": {"field": "threshold", "type": "quantitative"}}},
  {"data": {"name": "ref"}, "transform": [{"filter": "datum.region === 'IDF'"}], "mark": {"type": "rule", "color": "#222222", "strokeDash": [8, 6], "strokeWidth": 2.4},
   "encoding": {"y": {"field": "mean_yield", "type": "quantitative"}}},
  {"data": {"name": "trend"}, "transform": [{"filter": "datum.region === 'IDF'"}], "mark": {"type": "line", "color": "#aaaaaa", "strokeWidth": 3.5, "interpolate": "monotone"},
   "encoding": {"x": {"field": "precip", "type": "quantitative"}, "y": {"field": "yield", "type": "quantitative"}}},
  {"data": {"name": "points"}, "transform": [{"filter": "datum.region === 'IDF' && datum.year !== 'other'"}],
   "mark": {"type": "circle", "size": 95, "opacity": 1, "clip": true},
   "encoding": {"x": {"field": "precip", "type": "quantitative"}, "y": {"field": "yield", "type": "quantitative"}, "color": {"field": "year", "type": "nominal"}}}
 ]
},
{
 "width": 333, "height": 345,
 "title": {"text": "Normandie", "dx": 30, "offset": 15},
 "layer": [
  {"data": {"name": "points"}, "transform": [{"filter": "datum.region === 'NOR' && datum.year === 'other'"}],
   "mark": {"type": "circle", "size": 62, "opacity": 0.6, "clip": true},
   "encoding": {
    "x": {"field": "precip", "type": "quantitative", "scale": {"domain": [172, 892], "nice": false, "zero": false}, "axis": {"values": [200, 400, 600, 800], "labelPadding": 7, "title": "Precipitation (in mm)", "titleFont": "Roboto", "titleFontSize": 21, "titleFontWeight": "normal", "titleColor": "#111111", "titleX": 354, "titleY": 53, "titleBaseline": "middle"}},
    "y": {"field": "yield", "type": "quantitative", "scale": {"domain": [33.2, 103.1], "nice": false, "zero": false}, "axis": {"values": [40, 60, 80, 100], "title": null}},
    "color": {"field": "year", "type": "nominal", "scale": {"domain": ["2016", "2024", "other"], "range": ["#6431a9", "#ef78a0", "#4fb3f3"]}}
   }},
  {"data": {"name": "ref"}, "transform": [{"filter": "datum.region === 'NOR'"}], "mark": {"type": "rule", "color": "#8a5cd0", "strokeWidth": 2.2},
   "encoding": {"x": {"field": "threshold", "type": "quantitative"}}},
  {"data": {"name": "ref"}, "transform": [{"filter": "datum.region === 'NOR'"}], "mark": {"type": "rule", "color": "#222222", "strokeDash": [8, 6], "strokeWidth": 2.4},
   "encoding": {"y": {"field": "mean_yield", "type": "quantitative"}}},
  {"data": {"name": "trend"}, "transform": [{"filter": "datum.region === 'NOR'"}], "mark": {"type": "line", "color": "#aaaaaa", "strokeWidth": 3.5, "interpolate": "monotone"},
   "encoding": {"x": {"field": "precip", "type": "quantitative"}, "y": {"field": "yield", "type": "quantitative"}}},
  {"data": {"name": "points"}, "transform": [{"filter": "datum.region === 'NOR' && datum.year !== 'other'"}],
   "mark": {"type": "circle", "size": 95, "opacity": 1, "clip": true},
   "encoding": {"x": {"field": "precip", "type": "quantitative"}, "y": {"field": "yield", "type": "quantitative"}, "color": {"field": "year", "type": "nominal"}}}
 ]
},
{
 "width": 333, "height": 345,
 "title": {"text": "Pays de la Loire", "dx": 83, "offset": 15},
 "layer": [
  {"data": {"name": "points"}, "transform": [{"filter": "datum.region === 'PDL' && datum.year === 'other'"}],
   "mark": {"type": "circle", "size": 62, "opacity": 0.6, "clip": true},
   "encoding": {
    "x": {"field": "precip", "type": "quantitative", "scale": {"domain": [172, 892], "nice": false, "zero": false}, "axis": {"values": [200, 400, 600, 800], "labelPadding": 7, "title": null}},
    "y": {"field": "yield", "type": "quantitative", "scale": {"domain": [33.2, 103.1], "nice": false, "zero": false}, "axis": null},
    "color": {"field": "year", "type": "nominal", "scale": {"domain": ["2016", "2024", "other"], "range": ["#6431a9", "#ef78a0", "#4fb3f3"]}}
   }},
  {"data": {"name": "ref"}, "transform": [{"filter": "datum.region === 'PDL'"}], "mark": {"type": "rule", "color": "#8a5cd0", "strokeWidth": 2.2},
   "encoding": {"x": {"field": "threshold", "type": "quantitative"}}},
  {"data": {"name": "ref"}, "transform": [{"filter": "datum.region === 'PDL'"}], "mark": {"type": "rule", "color": "#222222", "strokeDash": [8, 6], "strokeWidth": 2.4},
   "encoding": {"y": {"field": "mean_yield", "type": "quantitative"}}},
  {"data": {"name": "trend"}, "transform": [{"filter": "datum.region === 'PDL'"}], "mark": {"type": "line", "color": "#aaaaaa", "strokeWidth": 3.5, "interpolate": "monotone"},
   "encoding": {"x": {"field": "precip", "type": "quantitative"}, "y": {"field": "yield", "type": "quantitative"}}},
  {"data": {"name": "points"}, "transform": [{"filter": "datum.region === 'PDL' && datum.year !== 'other'"}],
   "mark": {"type": "circle", "size": 95, "opacity": 1, "clip": true},
   "encoding": {"x": {"field": "precip", "type": "quantitative"}, "y": {"field": "yield", "type": "quantitative"}, "color": {"field": "year", "type": "nominal"}}}
 ]
}
]
}
